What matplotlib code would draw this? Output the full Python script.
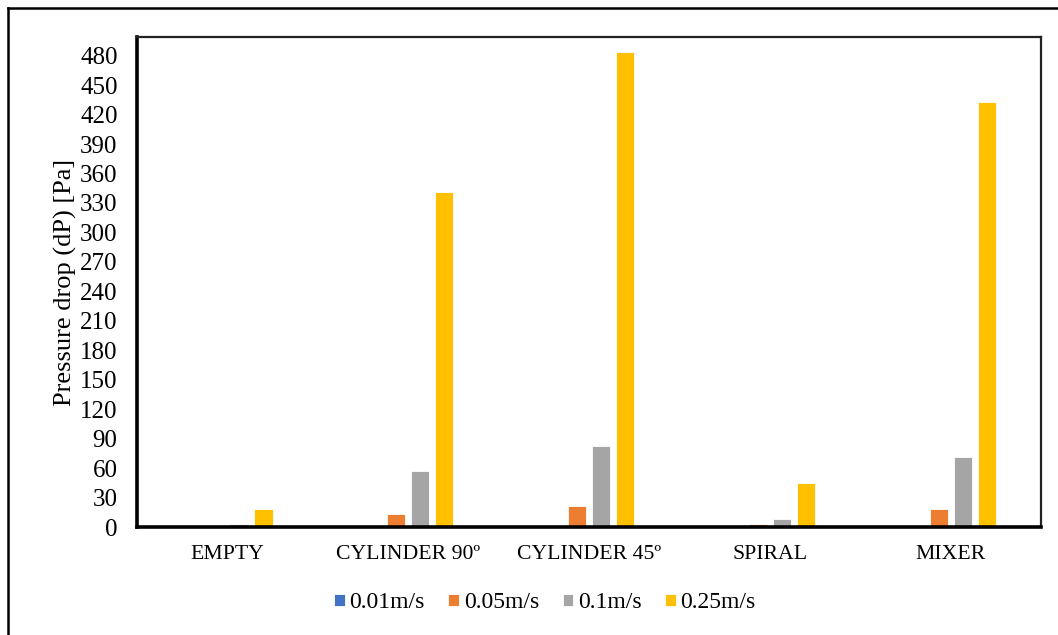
import numpy as np
import matplotlib.pyplot as plt
from matplotlib.lines import Line2D

plt.rcParams['font.family'] = ['Liberation Serif', 'DejaVu Serif']

categories = ['EMPTY', 'CYLINDER 90º', 'CYLINDER 45º', 'SPIRAL', 'MIXER']
series_names = ['0.01m/s', '0.05m/s', '0.1m/s', '0.25m/s']
v001 = [0.1, 0.2, 0.3, 0.1, 0.2]
v005 = [0.5, 13.6, 21.4, 2.7, 18.3]
v01 = [3.4, 57.4, 82.5, 8.5, 71.0]
v025 = [18.0, 341.0, 484.0, 45.0, 433.0]
yticks = np.arange(0, 481, 30)

colors = ['#4472C4', '#ED7D31', '#A5A5A5', '#FFC000']

fig = plt.figure(figsize=(10.58, 6.35), dpi=100)
ax = fig.add_axes([137/1058, 108/635, 904/1058, 490/635])

x = np.arange(len(categories))
step = 0.133
width = 0.1
for i, (vals, name) in enumerate(zip([v001, v005, v01, v025], series_names)):
    ax.bar(x + (i - 1.5) * step, vals, width, color=colors[i], label=name,
           edgecolor='white', linewidth=0.6, zorder=2)

ax.set_xlim(-0.5, len(categories) - 0.5)
ax.set_ylim(0, 499)
ax.set_yticks(yticks)
ax.set_xticks(x)
ax.set_xticklabels(categories, fontsize=15.7)
ax.tick_params(axis='y', labelsize=18, length=0, pad=14)
ax.tick_params(axis='x', length=0, pad=13)
ax.set_ylabel('Pressure drop (dP) [Pa]', fontsize=19, labelpad=2)

ax.spines['left'].set_linewidth(2.6)
ax.spines['bottom'].set_linewidth(2.6)
ax.spines['top'].set_linewidth(1.6)
ax.spines['right'].set_linewidth(1.6)
ax.spines['top'].set_color('#222222')
ax.spines['right'].set_color('#222222')

fig.legend(loc='center', bbox_to_anchor=(545/1058, 1 - 603/635), ncol=4,
           frameon=False, fontsize=17, handlelength=0.45, handleheight=0.45,
           handletextpad=0.2, columnspacing=1.0)

# outer frame: left and top edges
fig.add_artist(Line2D([8/1058, 8/1058], [0, 1 - 8/635], color='black', lw=1.8,
                      transform=fig.transFigure))
fig.add_artist(Line2D([8/1058, 1], [1 - 8/635, 1 - 8/635], color='black', lw=1.8,
                      transform=fig.transFigure))

fig.savefig('out.png', dpi=100)
